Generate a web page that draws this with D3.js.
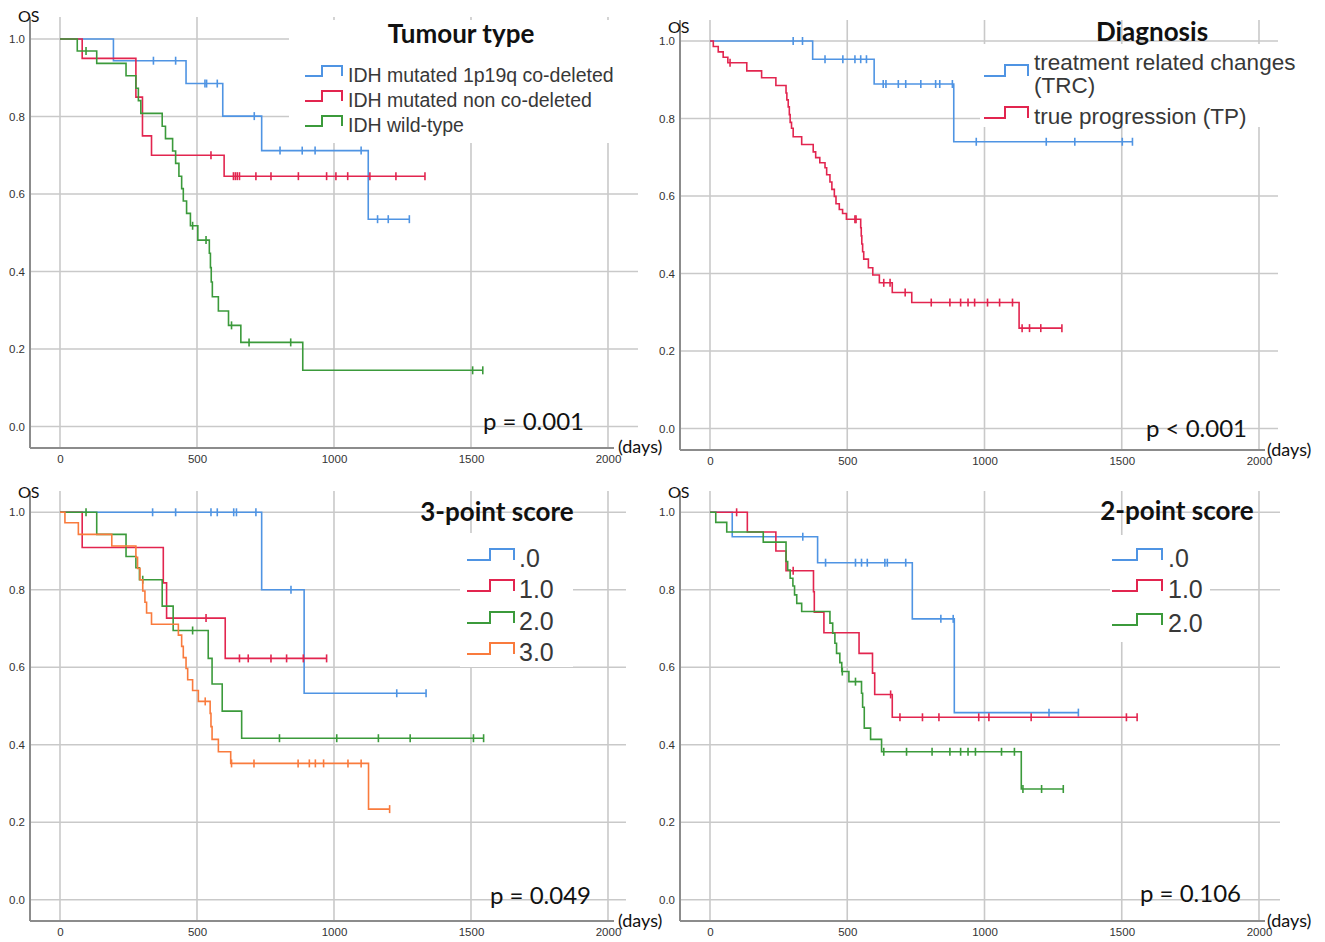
<!DOCTYPE html>
<html>
<head>
<meta charset="utf-8">
<script src="https://cdn.jsdelivr.net/npm/d3@7"></script>
<style>
  body { margin: 0; background: #fff; }
  svg { display: block; }
</style>
</head>
<body>
<svg id="chart"></svg>
<script>
// axis ticks
var xTicks = [0, 500, 1000, 1500, 2000];
var yTicks = [0, 0.2, 0.4, 0.6, 0.8, 1.0];

// ---- Tumour type ----
var tumourTitle = "Tumour type";
var tumourLabels = ["IDH mutated 1p19q co-deleted", "IDH mutated non co-deleted", "IDH wild-type"];
var codelTimes = [195, 460, 594, 736, 1125];
var codelSurv = [0.944, 0.885, 0.801, 0.712, 0.535];
var codelCens = [341, 422, 529, 535, 574, 709, 803, 884, 931, 1099, 1159, 1198, 1275];
var noncodelTimes = [81, 277, 301, 334, 599];
var noncodelSurv = [0.950, 0.850, 0.750, 0.700, 0.646];
var noncodelCens = [551, 633, 640, 647, 655, 715, 770, 870, 973, 1007, 1050, 1131, 1226, 1332];
var wildTimes = [63, 134, 241, 277, 286, 295, 373, 385, 411, 422, 434, 444, 450, 462, 476, 503, 545, 549, 552, 556, 578, 615, 660, 886];
var wildSurv = [0.969, 0.937, 0.905, 0.873, 0.841, 0.808, 0.775, 0.743, 0.711, 0.679, 0.646, 0.614, 0.582, 0.550, 0.518, 0.481, 0.447, 0.410, 0.373, 0.335, 0.298, 0.261, 0.217, 0.145];
var wildCens = [95, 484, 533, 626, 690, 842, 1506, 1543];
var tumourP = "p = 0.001";

// ---- Diagnosis ----
var diagTitle = "Diagnosis";
var diagLabels = ["treatment related changes", "(TRC)", "true progression (TP)"];
var trcTimes = [374, 598, 888];
var trcSurv = [0.953, 0.889, 0.740];
var trcCens = [303, 337, 419, 484, 528, 549, 570, 631, 641, 686, 713, 768, 822, 837, 883, 970, 1225, 1329, 1502, 1539];
var tpTimes = [12, 30, 48, 65, 134, 188, 240, 277, 280, 285, 289, 292, 297, 303, 334, 376, 385, 400, 419, 425, 437, 444, 453, 459, 471, 483, 497, 549, 551, 553, 556, 560, 577, 593, 617, 664, 735, 1126];
var tpSurv = [0.986, 0.972, 0.958, 0.944, 0.923, 0.905, 0.885, 0.866, 0.848, 0.830, 0.810, 0.790, 0.775, 0.753, 0.733, 0.714, 0.699, 0.686, 0.673, 0.655, 0.636, 0.617, 0.599, 0.580, 0.565, 0.555, 0.540, 0.518, 0.497, 0.476, 0.456, 0.437, 0.415, 0.396, 0.376, 0.351, 0.325, 0.259];
var tpCens = [73, 528, 532, 633, 656, 711, 806, 874, 913, 940, 964, 1011, 1055, 1102, 1137, 1164, 1205, 1282];
var diagP = "p < 0.001";

// ---- 3-point score ----
var score3Title = "3-point score";
var score3Labels = [".0", "1.0", "2.0", "3.0"];
var s3zeroTimes = [736, 891];
var s3zeroSurv = [0.800, 0.533];
var s3zeroCens = [338, 422, 551, 574, 634, 644, 715, 843, 1229, 1336];
var s3oneTimes = [81, 377, 389, 603];
var s3oneSurv = [0.909, 0.818, 0.727, 0.623];
var s3oneCens = [533, 655, 687, 770, 827, 888, 973];
var s3twoTimes = [134, 241, 277, 290, 373, 413, 541, 555, 592, 663];
var s3twoSurv = [0.943, 0.886, 0.857, 0.826, 0.758, 0.695, 0.623, 0.557, 0.487, 0.417];
var s3twoCens = [95, 302, 484, 801, 1010, 1162, 1278, 1509, 1546];
var s3threeTimes = [18, 67, 189, 277, 283, 292, 302, 310, 316, 334, 432, 444, 450, 460, 466, 484, 505, 548, 551, 555, 578, 623, 1126];
var s3threeSurv = [0.973, 0.943, 0.913, 0.884, 0.855, 0.826, 0.797, 0.768, 0.740, 0.711, 0.683, 0.654, 0.625, 0.597, 0.568, 0.540, 0.512, 0.481, 0.447, 0.414, 0.382, 0.352, 0.234];
var s3threeCens = [530, 626, 708, 869, 910, 932, 962, 1051, 1099, 1203];
var score3P = "p = 0.049";

// ---- 2-point score ----
var score2Title = "2-point score";
var score2Labels = [".0", "1.0", "2.0"];
var s2zeroTimes = [81, 392, 737, 890];
var s2zeroSurv = [0.937, 0.870, 0.725, 0.483];
var s2zeroCens = [338, 421, 530, 552, 573, 637, 646, 713, 841, 886, 1235, 1342];
var s2oneTimes = [136, 240, 277, 377, 380, 415, 543, 592, 600, 664];
var s2oneSurv = [0.949, 0.900, 0.849, 0.795, 0.742, 0.689, 0.636, 0.585, 0.530, 0.471];
var s2oneCens = [97, 303, 658, 692, 774, 834, 979, 1016, 1170, 1517, 1556];
var s2twoTimes = [21, 61, 194, 277, 283, 292, 302, 308, 316, 334, 437, 447, 455, 461, 473, 480, 506, 552, 556, 562, 585, 625, 1134];
var s2twoSurv = [0.974, 0.949, 0.923, 0.873, 0.851, 0.830, 0.810, 0.787, 0.765, 0.744, 0.714, 0.688, 0.662, 0.636, 0.612, 0.589, 0.563, 0.533, 0.497, 0.443, 0.414, 0.382, 0.286];
var s2twoCens = [482, 530, 633, 716, 809, 874, 913, 940, 967, 1062, 1109, 1140, 1208, 1287];
var score2P = "p = 0.106";

// colours
var blue = "#4f94e3";
var red = "#e2254f";
var green = "#3b9a3b";
var orange = "#f97b3d";

var svg = d3.select("#chart")
  .attr("width", 1325)
  .attr("height", 942);

var titleFont = "Lato, 'Open Sans', sans-serif";
var arialFont = "'Liberation Sans', Arial, sans-serif";

var panels = [
  {
    xr: [60, 608], yr: [426.5, 39], axisX: 30, axisY: 448, top: 17, gridRight: 638, axisRight: 614,
    box: [289, 20, 640, 143],
    title: tumourTitle, titleX: 461, titleY: 43,
    pText: tumourP, pX: 483, pY: 430,
    os: [18, 22], days: [618, 453],
    series: [
      {t: codelTimes, s: codelSurv, c: codelCens, color: blue},
      {t: noncodelTimes, s: noncodelSurv, c: noncodelCens, color: red},
      {t: wildTimes, s: wildSurv, c: wildCens, color: green}
    ],
    legend: {
      labels: tumourLabels, colors: [blue, red, green], size: 19.5,
      iconX: [305, 322, 342], textX: 348, rows: [81.5, 106.5, 131.5], low: -5.5, high: -15.5
    }
  },
  {
    xr: [710, 1259], yr: [428.5, 41], axisX: 680, axisY: 450, top: 20, gridRight: 1278, axisRight: 1265,
    box: [980, 44, 1312, 127],
    title: diagTitle, titleX: 1152, titleY: 41,
    pText: diagP, pX: 1146, pY: 437,
    os: [668, 33], days: [1267, 456],
    series: [
      {t: trcTimes, s: trcSurv, c: trcCens, color: blue},
      {t: tpTimes, s: tpSurv, c: tpCens, color: red}
    ],
    legend: {
      labels: diagLabels, colors: [blue, null, red], size: 22.5,
      iconX: [984, 1005, 1028], textX: 1034, rows: [70, 93, 124], iconRows: [81, null, 123], low: -5, high: -16
    }
  },
  {
    xr: [60, 608], yr: [899.8, 512.3], axisX: 30, axisY: 921, top: 491, gridRight: 626, axisRight: 614,
    box: [460, 533, 573, 667],
    title: score3Title, titleX: 497, titleY: 521,
    pText: score3P, pX: 490, pY: 904,
    os: [18, 498], days: [618, 927],
    series: [
      {t: s3zeroTimes, s: s3zeroSurv, c: s3zeroCens, color: blue},
      {t: s3oneTimes, s: s3oneSurv, c: s3oneCens, color: red},
      {t: s3twoTimes, s: s3twoSurv, c: s3twoCens, color: green},
      {t: s3threeTimes, s: s3threeSurv, c: s3threeCens, color: orange}
    ],
    legend: {
      labels: score3Labels, colors: [blue, red, green, orange], size: 25,
      iconX: [467, 490, 514], textX: 519, rows: [567, 598, 630, 661], low: -7, high: -18
    }
  },
  {
    xr: [710, 1259], yr: [899.8, 512.3], axisX: 680, axisY: 921, top: 491, gridRight: 1280, axisRight: 1265,
    box: [1110, 535, 1210, 642],
    title: score2Title, titleX: 1177, titleY: 520,
    pText: score2P, pX: 1140, pY: 902,
    os: [668, 498], days: [1267, 927],
    series: [
      {t: s2zeroTimes, s: s2zeroSurv, c: s2zeroCens, color: blue},
      {t: s2oneTimes, s: s2oneSurv, c: s2oneCens, color: red},
      {t: s2twoTimes, s: s2twoSurv, c: s2twoCens, color: green}
    ],
    legend: {
      labels: score2Labels, colors: [blue, red, green], size: 25,
      iconX: [1112, 1137, 1162], textX: 1168, rows: [567, 598, 632], low: -7, high: -18
    }
  }
];

// survival value at time t (step function)
function survAt(times, surv, t) {
  var v = 1;
  for (var i = 0; i < times.length; i++) {
    if (times[i] <= t) v = surv[i];
  }
  return v;
}

panels.forEach(function(p) {
  var g = svg.append("g");
  var x = d3.scaleLinear().domain([0, 2000]).range(p.xr);
  var y = d3.scaleLinear().domain([0, 1]).range(p.yr);

  // gridlines
  g.selectAll(".hgrid").data(yTicks).join("line")
    .attr("x1", p.axisX).attr("x2", p.gridRight)
    .attr("y1", d => y(d)).attr("y2", d => y(d))
    .attr("stroke", "#c9c9c9").attr("stroke-width", 1.6);
  g.selectAll(".vgrid").data(xTicks).join("line")
    .attr("x1", d => x(d)).attr("x2", d => x(d))
    .attr("y1", p.top).attr("y2", p.axisY)
    .attr("stroke", "#c9c9c9").attr("stroke-width", 1.6);

  // legend background
  g.append("rect")
    .attr("x", p.box[0]).attr("y", p.box[1])
    .attr("width", p.box[2] - p.box[0]).attr("height", p.box[3] - p.box[1])
    .attr("fill", "#fff");

  // axes
  var leftAxis = d3.axisLeft(y).tickValues(yTicks).tickFormat(d3.format(".1f")).tickSize(0).tickPadding(5);
  var bottomAxis = d3.axisBottom(x).tickValues(xTicks).tickFormat(d3.format("d")).tickSize(0).tickPadding(7);
  var ya = g.append("g").attr("transform", `translate(${p.axisX},0)`).call(leftAxis);
  var xa = g.append("g").attr("transform", `translate(0,${p.axisY})`).call(bottomAxis);
  [ya, xa].forEach(function(a) {
    a.select(".domain").remove();
    a.selectAll("text").attr("font-family", arialFont).attr("font-size", 11.5).attr("fill", "#333");
  });
  g.append("line")
    .attr("x1", p.axisX).attr("x2", p.axisX).attr("y1", p.top).attr("y2", p.axisY)
    .attr("stroke", "#8c8c8c").attr("stroke-width", 2);
  g.append("line")
    .attr("x1", p.axisX).attr("x2", p.axisRight).attr("y1", p.axisY).attr("y2", p.axisY)
    .attr("stroke", "#8c8c8c").attr("stroke-width", 2);

  // curves
  var line = d3.line()
    .x(d => x(d[0]))
    .y(d => y(d[1]))
    .curve(d3.curveStepAfter);

  p.series.forEach(function(s) {
    var end = d3.max(s.c);
    var pts = [[0, 1]];
    s.t.forEach(function(t, i) { pts.push([t, s.s[i]]); });
    pts.push([end, s.s[s.s.length - 1]]);
    g.append("path")
      .attr("d", line(pts))
      .attr("fill", "none")
      .attr("stroke", s.color)
      .attr("stroke-width", 1.6);
    g.selectAll(null).data(s.c).join("line")
      .attr("x1", d => x(d)).attr("x2", d => x(d))
      .attr("y1", d => y(survAt(s.t, s.s, d)) - 4)
      .attr("y2", d => y(survAt(s.t, s.s, d)) + 4)
      .attr("stroke", s.color).attr("stroke-width", 1.6);
  });

  // legend
  var L = p.legend;
  L.labels.forEach(function(lab, i) {
    var base = L.rows[i];
    if (L.colors[i]) {
      var iy = L.iconRows ? L.iconRows[i] : base;
      g.append("path")
        .attr("d", `M${L.iconX[0]},${iy + L.low}H${L.iconX[1]}V${iy + L.high}H${L.iconX[2]}V${iy + L.low}`)
        .attr("fill", "none").attr("stroke", L.colors[i]).attr("stroke-width", 2);
    }
    g.append("text")
      .attr("x", L.textX).attr("y", base)
      .attr("font-family", arialFont).attr("font-size", L.size)
      .attr("fill", "#383838")
      .text(lab);
  });

  // title
  g.append("text")
    .attr("x", p.titleX).attr("y", p.titleY)
    .attr("text-anchor", "middle")
    .attr("font-family", titleFont).attr("font-weight", "bold").attr("font-size", 26)
    .attr("fill", "#111")
    .text(p.title);

  // p value
  g.append("text")
    .attr("x", p.pX).attr("y", p.pY)
    .attr("font-family", titleFont).attr("font-size", 24)
    .attr("fill", "#111")
    .text(p.pText);

  // OS and (days)
  g.append("text")
    .attr("x", p.os[0]).attr("y", p.os[1])
    .attr("font-family", titleFont).attr("font-size", 16)
    .attr("fill", "#111")
    .text("OS");
  g.append("text")
    .attr("x", p.days[0]).attr("y", p.days[1])
    .attr("font-family", titleFont).attr("font-size", 18)
    .attr("fill", "#111")
    .text("(days)");
});
</script>
</body>
</html>
